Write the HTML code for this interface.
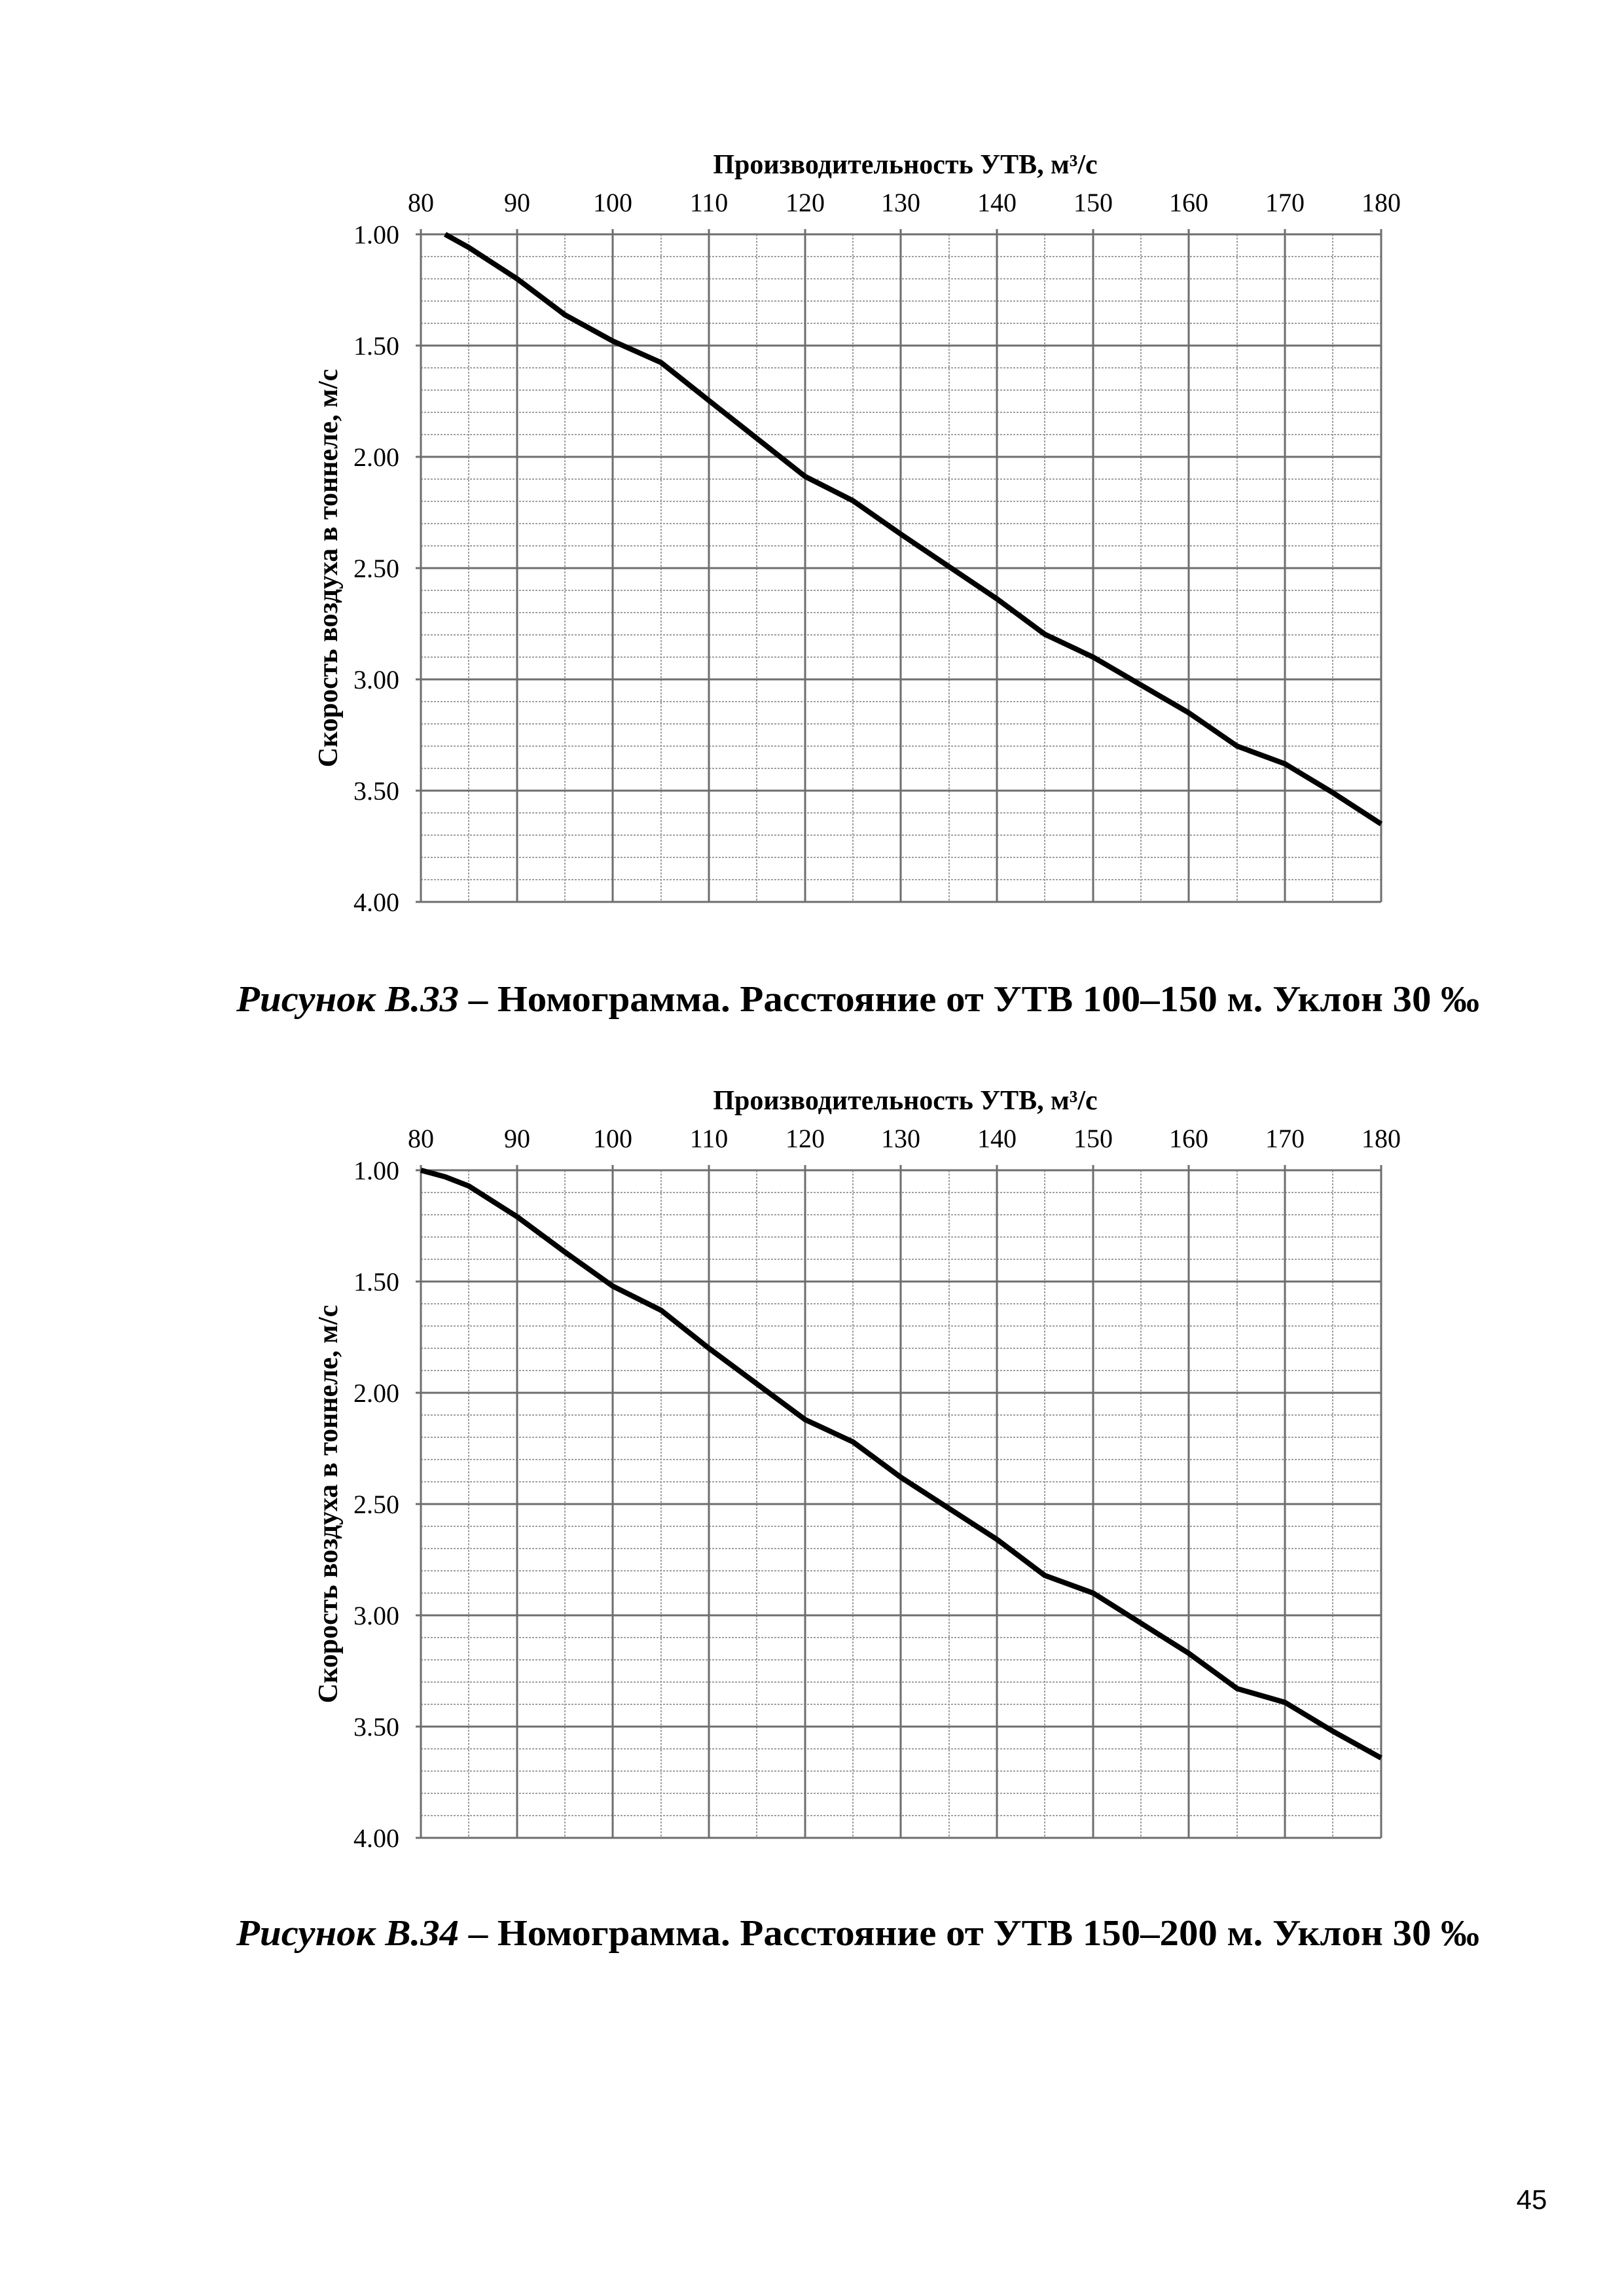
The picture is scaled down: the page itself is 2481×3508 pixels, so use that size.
<!DOCTYPE html>
<html><head><meta charset="utf-8"><style>
html,body{margin:0;padding:0;background:#fff;}
svg{display:block;}
text{font-family:"Liberation Serif",serif;fill:#000;}
</style></head><body>
<svg width="2481" height="3508" viewBox="0 0 2481 3508" xmlns="http://www.w3.org/2000/svg">
<defs>
<g id="chart">
  <g stroke="#a0a0a0" stroke-width="2" stroke-dasharray="3,2">
    <line x1="716" y1="358" x2="716" y2="1378"/><line x1="863" y1="358" x2="863" y2="1378"/>
    <line x1="1010" y1="358" x2="1010" y2="1378"/><line x1="1156" y1="358" x2="1156" y2="1378"/>
    <line x1="1303" y1="358" x2="1303" y2="1378"/><line x1="1450" y1="358" x2="1450" y2="1378"/>
    <line x1="1596" y1="358" x2="1596" y2="1378"/><line x1="1743" y1="358" x2="1743" y2="1378"/>
    <line x1="1890" y1="358" x2="1890" y2="1378"/><line x1="2036" y1="358" x2="2036" y2="1378"/>
    <line x1="643" y1="392" x2="2110" y2="392"/><line x1="643" y1="426" x2="2110" y2="426"/><line x1="643" y1="460" x2="2110" y2="460"/><line x1="643" y1="494" x2="2110" y2="494"/>
    <line x1="643" y1="562" x2="2110" y2="562"/><line x1="643" y1="596" x2="2110" y2="596"/><line x1="643" y1="630" x2="2110" y2="630"/><line x1="643" y1="664" x2="2110" y2="664"/>
    <line x1="643" y1="732" x2="2110" y2="732"/><line x1="643" y1="766" x2="2110" y2="766"/><line x1="643" y1="800" x2="2110" y2="800"/><line x1="643" y1="834" x2="2110" y2="834"/>
    <line x1="643" y1="902" x2="2110" y2="902"/><line x1="643" y1="936" x2="2110" y2="936"/><line x1="643" y1="970" x2="2110" y2="970"/><line x1="643" y1="1004" x2="2110" y2="1004"/>
    <line x1="643" y1="1072" x2="2110" y2="1072"/><line x1="643" y1="1106" x2="2110" y2="1106"/><line x1="643" y1="1140" x2="2110" y2="1140"/><line x1="643" y1="1174" x2="2110" y2="1174"/>
    <line x1="643" y1="1242" x2="2110" y2="1242"/><line x1="643" y1="1276" x2="2110" y2="1276"/><line x1="643" y1="1310" x2="2110" y2="1310"/><line x1="643" y1="1344" x2="2110" y2="1344"/>
  </g>
  <g stroke="#6e6e6e" stroke-width="3">
    <line x1="643" y1="350" x2="643" y2="1378"/><line x1="790" y1="350" x2="790" y2="1378"/><line x1="936" y1="350" x2="936" y2="1378"/>
    <line x1="1083" y1="350" x2="1083" y2="1378"/><line x1="1230" y1="350" x2="1230" y2="1378"/><line x1="1376" y1="350" x2="1376" y2="1378"/>
    <line x1="1523" y1="350" x2="1523" y2="1378"/><line x1="1670" y1="350" x2="1670" y2="1378"/><line x1="1816" y1="350" x2="1816" y2="1378"/>
    <line x1="1963" y1="350" x2="1963" y2="1378"/><line x1="2110" y1="350" x2="2110" y2="1378"/>
    <line x1="635" y1="358" x2="2110" y2="358"/><line x1="635" y1="528" x2="2110" y2="528"/><line x1="635" y1="698" x2="2110" y2="698"/>
    <line x1="635" y1="868" x2="2110" y2="868"/><line x1="635" y1="1038" x2="2110" y2="1038"/><line x1="635" y1="1208" x2="2110" y2="1208"/><line x1="635" y1="1378" x2="2110" y2="1378"/>
  </g>
  <g font-size="40" text-anchor="middle">
    <text x="643" y="323">80</text><text x="790" y="323">90</text><text x="936" y="323">100</text><text x="1083" y="323">110</text>
    <text x="1230" y="323">120</text><text x="1376" y="323">130</text><text x="1523" y="323">140</text><text x="1670" y="323">150</text>
    <text x="1816" y="323">160</text><text x="1963" y="323">170</text><text x="2110" y="323">180</text>
  </g>
  <g font-size="40" text-anchor="end">
    <text x="610" y="372">1.00</text><text x="610" y="542">1.50</text><text x="610" y="712">2.00</text><text x="610" y="882">2.50</text>
    <text x="610" y="1052">3.00</text><text x="610" y="1222">3.50</text><text x="610" y="1392">4.00</text>
  </g>
  <text x="1383" y="265" font-size="42" font-weight="bold" text-anchor="middle">Производительность УТВ, м³/с</text>
  <text transform="translate(515,868) rotate(-90)" font-size="42" font-weight="bold" text-anchor="middle">Скорость воздуха в тоннеле, м/с</text>
</g>
</defs>

<use href="#chart"/>
<polyline fill="none" stroke="#000" stroke-width="8" stroke-linejoin="round" points="680,358 716,378 790,426 863,481 936,521 1010,554 1083,612 1230,728 1303,765 1376,816 1523,915 1596,969 1670,1004 1816,1089 1890,1140 1963,1167 2036,1211 2110,1259"/>
<text x="361" y="1545" font-size="56" font-weight="bold" textLength="1899" lengthAdjust="spacingAndGlyphs"><tspan font-style="italic">Рисунок В.33</tspan> – Номограмма. Расстояние от УТВ 100–150 м. Уклон 30 ‰</text>

<g transform="translate(0,1430)">
<use href="#chart"/>
<polyline fill="none" stroke="#000" stroke-width="8" stroke-linejoin="round" points="643,358 680,368 716,382 790,429 863,483 936,535 1010,572 1083,630 1230,739 1303,773 1376,827 1523,922 1596,977 1670,1004 1816,1096 1890,1150 1963,1171 2036,1215 2110,1256"/>
<text x="361" y="1542" font-size="56" font-weight="bold" textLength="1899" lengthAdjust="spacingAndGlyphs"><tspan font-style="italic">Рисунок В.34</tspan> – Номограмма. Расстояние от УТВ 150–200 м. Уклон 30 ‰</text>
</g>

<text x="2340" y="3375" font-size="42" text-anchor="middle" style="font-family:'Liberation Sans',sans-serif">45</text>
</svg>
</body></html>
